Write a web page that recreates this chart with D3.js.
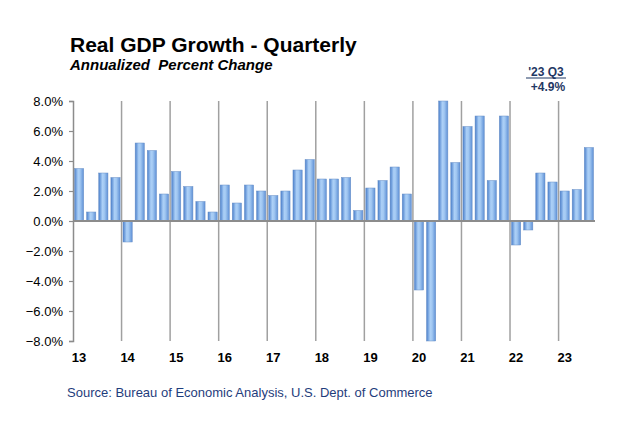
<!DOCTYPE html>
<html><head><meta charset="utf-8">
<script src="https://cdn.jsdelivr.net/npm/d3@7"></script>
<style>body{margin:0;background:#fff}svg{display:block}text{font-family:"Liberation Sans",Arial,sans-serif}</style>
</head><body>
<svg id="c" width="619" height="425"></svg>
<script>
const years = ["13","14","15","16","17","18","19","20","21","22","23"];
const quarters = ["Q1","Q2","Q3","Q4"];
const gdp2013 = [3.5, 0.6, 3.2, 2.9];
const gdp2014 = [-1.4, 5.2, 4.7, 1.8];
const gdp2015 = [3.3, 2.3, 1.3, 0.6];
const gdp2016 = [2.4, 1.2, 2.4, 2.0];
const gdp2017 = [1.7, 2.0, 3.4, 4.1];
const gdp2018 = [2.8, 2.8, 2.9, 0.7];
const gdp2019 = [2.2, 2.7, 3.6, 1.8];
const gdp2020 = [-4.6, -29.9, 35.3, 3.9];
const gdp2021 = [6.3, 7.0, 2.7, 7.0];
const gdp2022 = [-1.6, -0.6, 3.2, 2.6];
const gdp2023 = [2.0, 2.1, 4.9];
const yTicks = [-8, -6, -4, -2, 0, 2, 4, 6, 8];

const series = [gdp2013,gdp2014,gdp2015,gdp2016,gdp2017,gdp2018,gdp2019,gdp2020,gdp2021,gdp2022,gdp2023];
const data = [];
series.forEach((arr, yi) => arr.forEach((v, qi) => data.push({key: years[yi] + quarters[qi], year: years[yi], q: qi, value: v})));

const svg = d3.select("#c");
const pL = 73, pR = 595, pT = 101, pB = 341;

const x = d3.scaleBand().domain(data.map(d => d.key)).range([pL, pR]).paddingInner(0.24).paddingOuter(0.12);
const y = d3.scaleLinear().domain([-8, 8]).range([pB, pT]).clamp(true);

const defs = svg.append("defs");
const g = defs.append("linearGradient").attr("id", "barg").attr("x1", "0").attr("x2", "1").attr("y1", "0").attr("y2", "0");
g.append("stop").attr("offset", "0%").attr("stop-color", "#4a7fcb");
g.append("stop").attr("offset", "40%").attr("stop-color", "#acd0f7");
g.append("stop").attr("offset", "60%").attr("stop-color", "#a2c8f2");
g.append("stop").attr("offset", "100%").attr("stop-color", "#5e90d6");

// year gridlines
const step = x.step();
years.slice(1).forEach(yr => {
  const xv = x(yr + "Q1") - x.paddingInner() * step / 2;
  svg.append("line").attr("x1", xv).attr("x2", xv).attr("y1", pT).attr("y2", pB)
    .attr("stroke", "#a0a0a0").attr("stroke-width", 1.5);
});

// bars
svg.append("g").selectAll("rect").data(data).join("rect")
  .attr("x", d => x(d.key))
  .attr("width", x.bandwidth())
  .attr("y", d => Math.min(y(d.value), y(0)))
  .attr("height", d => Math.abs(y(d.value) - y(0)))
  .attr("fill", "url(#barg)")
  .attr("stroke", "#6a90c6").attr("stroke-width", 0.5);

// zero line
svg.append("line").attr("x1", pL).attr("x2", pR).attr("y1", y(0)).attr("y2", y(0))
  .attr("stroke", "#8c8c8c").attr("stroke-width", 1.8);

// y axis
const yAxis = d3.axisLeft(y).tickValues(yTicks).tickSize(4).tickPadding(6).tickFormat(d => d3.format(".1f")(d) + "%");
const ya = svg.append("g").attr("transform", `translate(${pL},0)`).call(yAxis);
ya.select(".domain").attr("stroke", "#8c8c8c").attr("stroke-width", 1.5);
ya.selectAll(".tick line").attr("stroke", "#8c8c8c").attr("stroke-width", 1.2);
ya.selectAll(".tick text").attr("font-size", 13).attr("fill", "#000").attr("font-family", '"Liberation Sans",Arial,sans-serif');

// x year labels
svg.append("g").selectAll("text").data(years).join("text")
  .attr("x", d => x(d + "Q1") + x.bandwidth() / 2)
  .attr("y", 362)
  .attr("text-anchor", "middle")
  .attr("font-size", 13).attr("font-weight", "bold").attr("fill", "#000")
  .text(d => d);

// titles
svg.append("text").attr("x", 70).attr("y", 52).attr("font-size", 21).attr("font-weight", "bold").attr("fill", "#000")
  .text("Real GDP Growth - Quarterly");
svg.append("text").attr("x", 70).attr("y", 70).attr("font-size", 15).attr("font-weight", "bold").attr("font-style", "italic").attr("fill", "#000")
  .attr("xml:space", "preserve").text("Annualized  Percent Change");

// annotation
const last = data[data.length - 1];
const ax = 546;
svg.append("text").attr("x", ax).attr("y", 76).attr("text-anchor", "middle").attr("font-size", 12).attr("font-weight", "bold").attr("fill", "#1f3864")
  .text("'" + last.year + " " + quarters[last.q]);
svg.append("line").attr("x1", 526).attr("x2", 566).attr("y1", 78).attr("y2", 78).attr("stroke", "#1f3864").attr("stroke-width", 1.2);
svg.append("text").attr("x", ax + 2).attr("y", 91).attr("text-anchor", "middle").attr("font-size", 12).attr("font-weight", "bold").attr("fill", "#1f3864")
  .text("+" + d3.format(".1f")(last.value) + "%");

// source
svg.append("text").attr("x", 67).attr("y", 397).attr("font-size", 13).attr("fill", "#1f3d7c")
  .text("Source: Bureau of Economic Analysis, U.S. Dept. of Commerce");
</script>
</body></html>
